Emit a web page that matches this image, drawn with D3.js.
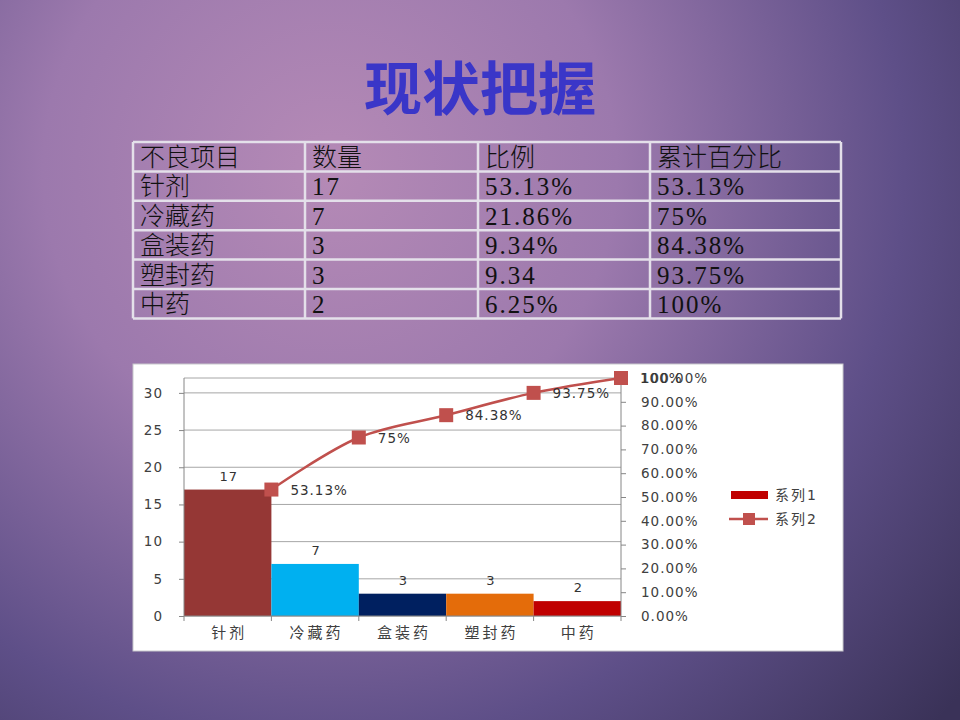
<!DOCTYPE html>
<html>
<head>
<meta charset="utf-8">
<script src="https://cdn.jsdelivr.net/npm/d3@7"></script>
<style>
  html, body { margin: 0; padding: 0; }
  body { width: 960px; height: 720px; overflow: hidden; }
</style>
</head>
<body>
<div id="slide"></div>
<script>
// table + chart data
const categories = ["针剂", "冷藏药", "盒装药", "塑封药", "中药"];
const counts = [17, 7, 3, 3, 2];
const ratioLabels = ["53.13%", "21.86%", "9.34%", "9.34", "6.25%"];
const cumLabels = ["53.13%", "75%", "84.38%", "93.75%", "100%"];
const cumValues = [53.13, 75, 84.38, 93.75, 100];
const headers = ["不良项目", "数量", "比例", "累计百分比"];
const leftTicks = [0, 5, 10, 15, 20, 25, 30];
const rightTicks = [0, 10, 20, 30, 40, 50, 60, 70, 80, 90, 100];
const barColors = ["#953735", "#00b0f0", "#002060", "#e46c0a", "#c00000"];
const seriesNames = ["系列1", "系列2"];

const width = 960, height = 720;
const cjk = "'Noto Sans CJK SC', sans-serif";
const chartFont = "'DejaVu Sans', 'Noto Sans CJK SC', sans-serif";

const svg = d3.select("#slide").append("svg")
    .attr("width", width)
    .attr("height", height);

/**
* BACKGROUND
* */
const defs = svg.append("defs");
const bg = defs.append("radialGradient")
    .attr("id", "bg")
    .attr("gradientUnits", "userSpaceOnUse")
    .attr("cx", 330).attr("cy", 170).attr("r", 820);
bg.append("stop").attr("offset", "0%").attr("stop-color", "#b58ab6");
bg.append("stop").attr("offset", "35%").attr("stop-color", "#9c79ad");
bg.append("stop").attr("offset", "70%").attr("stop-color", "#5e4f88");
bg.append("stop").attr("offset", "100%").attr("stop-color", "#3a3258");

svg.append("rect")
    .attr("width", width).attr("height", height)
    .attr("fill", "url(#bg)");

// title
svg.append("text")
    .attr("x", 480).attr("y", 110)
    .attr("text-anchor", "middle")
    .attr("font-family", cjk)
    .attr("font-weight", 700)
    .attr("font-size", 58)
    .attr("fill", "#3a36c8")
    .text("现状把握");

/**
* TABLE
* */
const colX = [133, 305, 478, 650, 841];
const rowY = d3.range(7).map(i => 142 + i * 29.4);
const rows = [headers].concat(categories.map((c, i) => [c, String(counts[i]), ratioLabels[i], cumLabels[i]]));

const table = svg.append("g");
rows.forEach((row, r) => {
    row.forEach((cell, c) => {
        table.append("text")
            .attr("x", colX[c] + 7)
            .attr("y", rowY[r] + 24)
            .attr("font-family", "'Liberation Serif', 'Noto Sans CJK SC', serif")
            .attr("font-weight", 300)
            .attr("font-size", 25)
            .attr("letter-spacing", /^[0-9]/.test(cell) ? 2 : 0)
            .attr("fill", "#111")
            .text(cell);
    });
});
table.selectAll("line.h")
    .data(rowY)
    .join("line")
    .attr("x1", colX[0]).attr("x2", colX[4])
    .attr("y1", d => d).attr("y2", d => d)
    .attr("stroke", "#e4e0ea").attr("stroke-width", 2.5);
table.selectAll("line.v")
    .data(colX)
    .join("line")
    .attr("x1", d => d).attr("x2", d => d)
    .attr("y1", rowY[0]).attr("y2", rowY[6])
    .attr("stroke", "#e4e0ea").attr("stroke-width", 2.5);

/**
* CHART
* */
svg.append("rect")
    .attr("x", 133).attr("y", 364)
    .attr("width", 710).attr("height", 287)
    .attr("fill", "#fff")
    .attr("stroke", "#c8c8cc");

const x = d3.scaleBand()
    .domain(categories)
    .range([184, 621])
    .paddingInner(0);

const yLeft = d3.scaleLinear().domain([0, 32]).range([616, 378]);
const yRight = d3.scaleLinear().domain([0, 100]).range([616, 378]);

const chart = svg.append("g").attr("font-family", chartFont);

// gridlines
chart.selectAll("line.grid")
    .data(leftTicks.concat([32]))
    .join("line")
    .attr("x1", 184).attr("x2", 621)
    .attr("y1", d => yLeft(d)).attr("y2", d => yLeft(d))
    .attr("stroke", "#a6a6a6").attr("stroke-width", 1);

// bars
chart.selectAll("rect.bar")
    .data(counts)
    .join("rect")
    .attr("x", (d, i) => x(categories[i]))
    .attr("y", d => yLeft(d))
    .attr("width", x.bandwidth())
    .attr("height", d => yLeft(0) - yLeft(d))
    .attr("fill", (d, i) => barColors[i]);

chart.selectAll("text.barlabel")
    .data(counts)
    .join("text")
    .attr("x", (d, i) => x(categories[i]) + x.bandwidth() / 2 + 1)
    .attr("y", d => yLeft(d) - 9)
    .attr("text-anchor", "middle")
    .attr("font-size", 13)
    .attr("letter-spacing", 1)
    .attr("fill", "#333")
    .text(d => d);

// axes
const leftAxis = chart.append("g")
    .attr("transform", "translate(184,0)")
    .call(d3.axisLeft(yLeft).tickValues(leftTicks).tickSize(5).tickPadding(16));
const rightAxis = chart.append("g")
    .attr("transform", "translate(621,0)")
    .call(d3.axisRight(yRight).tickValues(rightTicks).tickSize(5).tickPadding(15)
        .tickFormat(d => d.toFixed(2) + "%"));
const bottomAxis = chart.append("g")
    .attr("transform", "translate(0,616)")
    .call(d3.axisBottom(x).tickSize(0).tickPadding(11));

[leftAxis, rightAxis, bottomAxis].forEach(a => {
    a.select(".domain").attr("stroke", "#868686");
    a.selectAll(".tick line").attr("stroke", "#868686");
    a.selectAll("text").attr("font-family", chartFont).attr("font-size", 13.5)
        .attr("letter-spacing", 1).attr("fill", "#404040");
});
leftAxis.select(".domain").attr("d", "M0,378V616");
rightAxis.select(".domain").attr("d", "M0,378V616");
bottomAxis.select(".domain").attr("d", "M184,0H621");
bottomAxis.selectAll("text").attr("font-size", 15).attr("letter-spacing", 3).attr("dx", 1.5);

// category boundary ticks
chart.selectAll("line.xtick")
    .data(d3.range(categories.length + 1))
    .join("line")
    .attr("x1", i => 184 + i * x.bandwidth())
    .attr("x2", i => 184 + i * x.bandwidth())
    .attr("y1", 616).attr("y2", 621)
    .attr("stroke", "#868686");

// cumulative line
const px = (d, i) => x(categories[i]) + x.bandwidth();
const line = d3.line()
    .x(px)
    .y(d => yRight(d))
    .curve(d3.curveCatmullRom.alpha(0.5));

chart.append("path")
    .datum(cumValues)
    .attr("d", line)
    .attr("fill", "none")
    .attr("stroke", "#c0504d")
    .attr("stroke-width", 2.5);

chart.selectAll("rect.marker")
    .data(cumValues)
    .join("rect")
    .attr("x", (d, i) => px(d, i) - 7)
    .attr("y", d => yRight(d) - 7)
    .attr("width", 14).attr("height", 14)
    .attr("fill", "#c0504d");

chart.selectAll("text.cumlabel")
    .data(cumValues)
    .join("text")
    .attr("x", (d, i) => px(d, i) + 19)
    .attr("y", d => yRight(d) + 5)
    .attr("font-size", 13.5)
    .attr("letter-spacing", 1)
    .attr("fill", "#333")
    .text((d, i) => cumLabels[i]);

// legend
const legend = chart.append("g");
legend.append("rect")
    .attr("x", 731).attr("y", 491)
    .attr("width", 37).attr("height", 8)
    .attr("fill", "#c00000");
legend.append("line")
    .attr("x1", 729).attr("x2", 768)
    .attr("y1", 519).attr("y2", 519)
    .attr("stroke", "#c0504d").attr("stroke-width", 2.5);
legend.append("rect")
    .attr("x", 743).attr("y", 513)
    .attr("width", 12).attr("height", 12)
    .attr("fill", "#c0504d");
legend.selectAll("text")
    .data(seriesNames)
    .join("text")
    .attr("x", 775)
    .attr("y", (d, i) => 500 + i * 24)
    .attr("font-size", 14)
    .attr("letter-spacing", 2)
    .attr("fill", "#404040")
    .text(d => d);
</script>
</body>
</html>
